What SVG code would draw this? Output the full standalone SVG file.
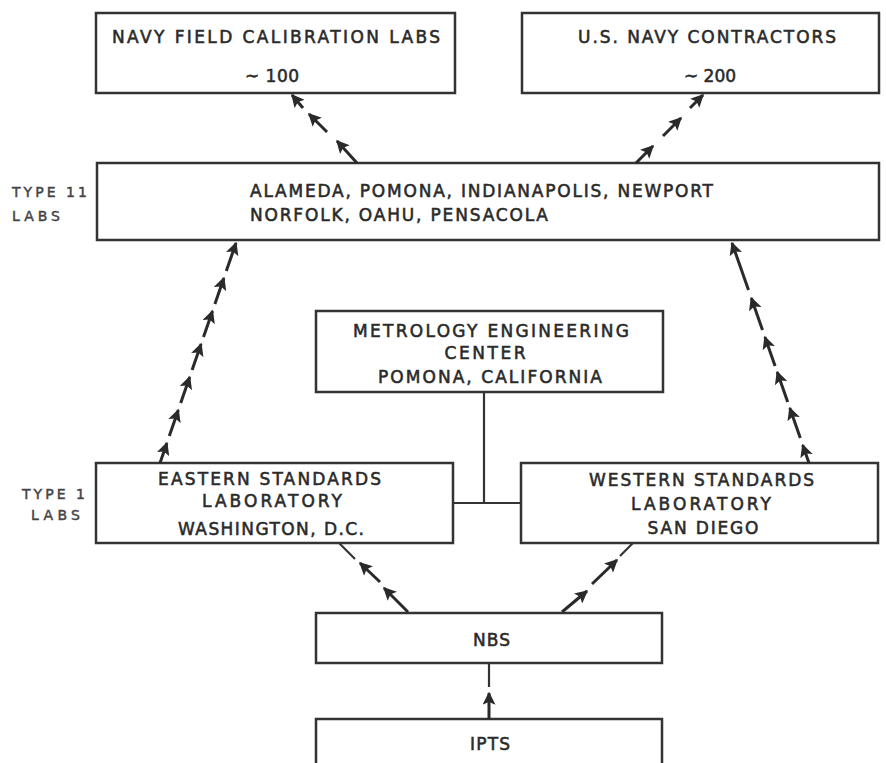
<svg xmlns="http://www.w3.org/2000/svg" width="886" height="763" viewBox="0 0 886 763">
<style>
  .box { fill: #ffffff; stroke: #333333; stroke-width: 2.5; }
  .t { font-family: "DejaVu Sans", "Liberation Sans", sans-serif; font-size: 17px; fill: #2a2a2a; stroke: #2a2a2a; stroke-width: 0.55; font-weight: normal; }
  .tl { font-family: "DejaVu Sans", "Liberation Sans", sans-serif; font-size: 14px; fill: #444444; stroke: #444444; stroke-width: 0.45; font-weight: normal; }
  .c { text-anchor: middle; }
  .arr { stroke: #2a2a2a; stroke-width: 3; fill: none; marker-end: url(#ah); }
  .ln { stroke: #333333; stroke-width: 2.2; fill: none; }
</style>
<defs>
  <marker id="ah" viewBox="0 0 10 10" markerUnits="userSpaceOnUse" markerWidth="14" markerHeight="13" refX="9" refY="5" orient="auto">
    <path d="M0,0 L10,5 L0,10 L2,5 z" fill="#2a2a2a"/>
  </marker>
</defs>
<rect width="886" height="763" fill="#ffffff"/>

<g id="navy-field">
  <rect class="box" x="96" y="13" width="359" height="80"/>
  <text class="t c" x="276" y="43" textLength="328" lengthAdjust="spacing">NAVY FIELD CALIBRATION LABS</text>
  <text class="t c" x="272" y="82" textLength="54" lengthAdjust="spacing">~ 100</text>
</g>

<g id="contractors">
  <rect class="box" x="522" y="13" width="357" height="80"/>
  <text class="t c" x="707" y="43" textLength="258" lengthAdjust="spacing">U.S. NAVY CONTRACTORS</text>
  <text class="t c" x="710" y="82" textLength="52" lengthAdjust="spacing">~ 200</text>
</g>

<g id="type2-labs">
  <rect class="box" x="97" y="163" width="782" height="77"/>
  <text class="t" x="250" y="197" textLength="463" lengthAdjust="spacing">ALAMEDA, POMONA, INDIANAPOLIS, NEWPORT</text>
  <text class="t" x="250" y="221" textLength="298" lengthAdjust="spacing">NORFOLK, OAHU, PENSACOLA</text>
</g>
<g id="type2-label">
  <text class="tl" x="12" y="197" textLength="75" lengthAdjust="spacing">TYPE 11</text>
  <text class="tl" x="12" y="221" textLength="48" lengthAdjust="spacing">LABS</text>
</g>

<g id="metrology">
  <rect class="box" x="316" y="311" width="347" height="81"/>
  <text class="t c" x="491" y="337" textLength="276" lengthAdjust="spacing">METROLOGY ENGINEERING</text>
  <text class="t c" x="485" y="359" textLength="81" lengthAdjust="spacing">CENTER</text>
  <text class="t c" x="490" y="383" textLength="224" lengthAdjust="spacing">POMONA, CALIFORNIA</text>
</g>

<g id="eastern">
  <rect class="box" x="96" y="463" width="357" height="80"/>
  <text class="t c" x="269.5" y="485" textLength="223" lengthAdjust="spacing">EASTERN STANDARDS</text>
  <text class="t c" x="272" y="507" textLength="140" lengthAdjust="spacing">LABORATORY</text>
  <text class="t c" x="271" y="535" textLength="186" lengthAdjust="spacing">WASHINGTON, D.C.</text>
</g>
<g id="type1-label">
  <text class="tl" x="22" y="499" textLength="63" lengthAdjust="spacing">TYPE 1</text>
  <text class="tl" x="31" y="520" textLength="49" lengthAdjust="spacing">LABS</text>
</g>

<g id="western">
  <rect class="box" x="521" y="463" width="357" height="80"/>
  <text class="t c" x="701.5" y="486" textLength="225" lengthAdjust="spacing">WESTERN STANDARDS</text>
  <text class="t c" x="701" y="510" textLength="140" lengthAdjust="spacing">LABORATORY</text>
  <text class="t c" x="703" y="534" textLength="111" lengthAdjust="spacing">SAN DIEGO</text>
</g>

<g id="nbs">
  <rect class="box" x="316" y="613" width="346" height="50"/>
  <text class="t c" x="491.5" y="646" textLength="37" lengthAdjust="spacing">NBS</text>
</g>

<g id="ipts">
  <rect class="box" x="316" y="719" width="346" height="60"/>
  <text class="t c" x="490" y="750" textLength="40" lengthAdjust="spacing">IPTS</text>
</g>

<g id="connectors">
  <!-- Metrology center tie -->
  <path class="ln" d="M484,392 L484,503 M453,503 L521,503"/>

  <!-- Type II -> Navy field labs -->
  <line class="arr" x1="357" y1="163" x2="337" y2="141"/>
  <line class="arr" x1="327" y1="132" x2="309" y2="114"/>
  <line class="arr" x1="303" y1="108" x2="292" y2="95"/>

  <!-- Type II -> Contractors -->
  <line class="arr" x1="636" y1="163" x2="653" y2="146"/>
  <line class="arr" x1="663" y1="136" x2="681" y2="118"/>
  <line class="arr" x1="690" y1="108" x2="703" y2="95"/>

  <!-- Eastern -> Type II -->
  <line class="arr" x1="160" y1="463" x2="166.9" y2="443"/>
  <line class="arr" x1="169.3" y1="436" x2="178.3" y2="410"/>
  <line class="arr" x1="180.7" y1="403" x2="189.7" y2="377"/>
  <line class="arr" x1="192.1" y1="370" x2="201.1" y2="344"/>
  <line class="arr" x1="203.5" y1="337" x2="212.5" y2="311"/>
  <line class="arr" x1="214.9" y1="304" x2="223.9" y2="278"/>
  <line class="arr" x1="226.3" y1="271" x2="236" y2="243"/>

  <!-- Western -> Type II -->
  <line class="arr" x1="809" y1="463" x2="802.7" y2="445"/>
  <line class="arr" x1="800.3" y1="438" x2="789.8" y2="408"/>
  <line class="arr" x1="787.7" y1="402" x2="777.2" y2="372"/>
  <line class="arr" x1="775.1" y1="366" x2="764.9" y2="337"/>
  <line class="arr" x1="762.5" y1="330" x2="751.3" y2="298"/>
  <line class="arr" x1="748.5" y1="290" x2="732" y2="243"/>

  <!-- NBS -> Eastern -->
  <line class="arr" x1="408" y1="612" x2="384" y2="588"/>
  <line class="arr" x1="380" y1="582" x2="360" y2="563"/>
  <line class="ln" x1="355" y1="559" x2="339" y2="543"/>

  <!-- NBS -> Western -->
  <line class="arr" x1="562" y1="612" x2="587" y2="591"/>
  <line class="arr" x1="592" y1="584" x2="617" y2="560"/>
  <line class="ln" x1="620" y1="556" x2="633" y2="543"/>

  <!-- IPTS -> NBS -->
  <line class="ln" x1="489" y1="663" x2="489" y2="687"/>
  <line class="arr" x1="489" y1="719" x2="489" y2="693"/>
</g>
</svg>
